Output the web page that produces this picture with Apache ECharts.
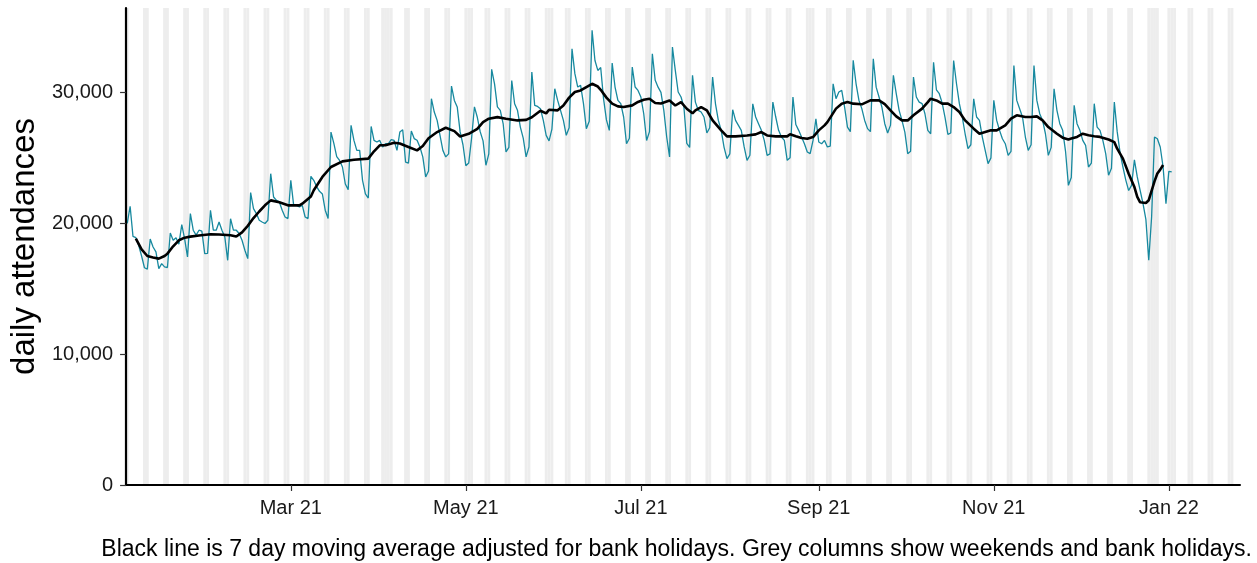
<!DOCTYPE html>
<html><head><meta charset="utf-8">
<script src="https://cdn.jsdelivr.net/npm/echarts@6/dist/echarts.min.js"></script>
<style>html,body{margin:0;padding:0;background:#fff}#c{width:1257px;height:563px}</style>
</head><body><div id="c"></div>
<script>
// ---------- data ----------
const startDate = '2021-01-03';           // date of the first daily value
const dailyAttendances = [
20000,
21300,19000,18900,18300,17500,16600,16500,
18800,18190,17810,16540,16920,16670,16620,
19260,18700,18900,18400,19900,18800,17430,
20740,19470,19090,19470,19400,17680,17700,
20990,19470,19470,20100,19470,18960,17170,
20350,19470,19470,19220,18700,17940,17300,
22340,21120,20740,20230,20100,19980,20230,
23790,22010,21750,21630,20990,20480,20360,
23280,21370,21370,21250,21370,20480,20360,
23590,23280,22800,22440,22240,21000,20360,
26970,26100,25100,24800,24300,23000,22570,
27480,26330,25570,25570,23280,22240,21930,
27400,26330,26210,26330,25830,26080,26080,
26400,26330,25570,26970,27150,24680,24600,
27050,26470,26340,25830,25070,23540,24000,
29520,28500,27860,26720,25570,25070,25300,
30480,29390,28890,27000,26000,24400,24600,
26500,28900,28100,27000,26300,24430,25300,
31760,30650,28890,28630,27620,25450,25800,
30910,29130,28630,27350,26500,25070,25830,
31550,29010,28930,28750,27860,26720,26300,
27200,30280,29390,28630,27860,26720,27300,
33330,31430,30410,30540,29140,27230,27800,
34740,32440,31680,31900,29500,27900,27100,
32240,30410,29390,29140,28120,26080,26500,
31930,30410,30150,29650,28370,26330,27000,
32950,30920,30400,30000,28630,26590,25070,
33460,31680,30030,29650,28880,26100,25800,
31300,29260,28630,28500,28120,26900,27300,
31170,29130,27860,27100,25800,24940,25300,
28680,27860,27480,27100,25830,24810,25200,
29130,28120,27610,27100,26330,25190,25300,
29260,28120,27100,26590,26330,24810,25000,
29650,27550,27100,26590,26080,25450,25320,
26330,27990,26210,26080,26330,25830,25900,
30660,29520,30030,30150,28880,27350,27000,
32450,30660,29390,28760,27860,27230,27000,
32570,30400,29650,28880,27610,26900,27500,
31300,29900,28630,27860,26970,25320,25500,
31170,29650,29260,29140,28370,27100,26840,
32300,30200,29900,29200,28100,26800,26900,
32440,30660,29140,28120,26840,25700,26000,
29510,28120,27860,26590,25570,24560,25000,
29390,27860,27100,26460,26080,25190,25500,
32060,29390,28750,28120,26590,25570,26000,
32060,29390,28370,27860,26840,25190,25800,
30280,28630,27610,27100,25500,22900,23500,
29010,27610,27100,26330,25950,24300,24600,
29140,27350,27100,26330,25320,23670,24200,
29260,27000,25400,24300,23300,22500,22900,
24850,23540,22520,21500,20300,17180,20500,
26590,26460,25830,24300,21500,23970,23920
];
// 7 day moving average: day number counted from 2021-01-01, and its value
const maDayIndex = [5,7,9,11,13,15,16,18,20,22,24,27,31,34,38,40,42,44,46,48,50,52,55,58,62,63,66,67,70,73,77,81,86,88,90,92,95,97,100,103,105,107,110,113,116,118,121,124,126,128,131,134,138,141,143,146,148,149,152,154,156,158,160,162,164,166,167,169,171,173,175,178,180,182,184,186,188,191,193,195,197,199,200,202,204,206,209,211,214,218,221,223,225,228,232,233,235,237,239,241,243,245,246,249,251,253,255,258,261,264,266,268,270,272,274,276,279,281,282,284,286,288,290,292,294,297,299,301,303,305,308,310,312,315,317,319,321,323,326,328,330,331,333,335,337,339,341,344,346,347,348,349,351,353,354,355,357,358,360,361,362,363];
const maValues = [18830,18000,17500,17380,17300,17500,17680,18240,18700,18900,18980,19060,19160,19140,19090,18990,19300,19800,20400,20900,21370,21750,21600,21370,21370,21500,22050,22520,23540,24300,24730,24860,24940,25500,25960,25960,26150,26090,25830,25570,25900,26500,26970,27300,27040,26630,26840,27220,27730,27990,28110,27990,27860,27900,28100,28600,28400,28680,28630,29000,29600,30030,30150,30410,30660,30450,30200,29600,29140,28930,28880,29010,29270,29440,29520,29190,29150,29380,29000,29260,28750,28400,28630,28880,28630,27860,27100,26640,26640,26710,26790,26970,26710,26640,26640,26800,26650,26510,26460,26590,27100,27480,27730,28760,29140,29260,29140,29090,29390,29390,29100,28630,28170,27860,27860,28250,28760,29260,29520,29390,29140,29140,28880,28500,27860,27230,26840,26970,27100,27100,27480,27990,28250,28120,28120,28170,27860,27350,26840,26540,26400,26470,26600,26850,26720,26650,26600,26400,26200,25700,25320,24940,23790,22770,22010,21600,21550,21760,23200,23800,24100,24450];
const bankHolidays = ['2021-01-01','2021-04-02','2021-04-05','2021-05-03','2021-05-31','2021-08-30','2021-12-27','2021-12-28','2022-01-03'];
const xTickDates = ['2021-03-01','2021-05-01','2021-07-01','2021-09-01','2021-11-01','2022-01-01'];
const xTickLabels = ['Mar 21','May 21','Jul 21','Sep 21','Nov 21','Jan 22'];
const yTickValues = [0, 10000, 20000, 30000];
const yAxisTitle = 'daily attendances';
const caption = 'Black line is 7 day moving average adjusted for bank holidays. Grey columns show weekends and bank holidays.';

// ---------- build ----------
const DAY = 86400000;
function ts(s){ const p = s.split('-').map(Number); return Date.UTC(p[0], p[1]-1, p[2]); }
const base = ts('2021-01-01');
const dayNo = s => Math.round((ts(s) - base) / DAY);
const xMin = 1.59, xMax = 389.8;              // visible date range, in days from 2021-01-01
const d0 = dayNo(startDate);
const dailySeries = dailyAttendances.map((v, i) => [d0 + i, v]);
const maSeries = maDayIndex.map((d, i) => [d, maValues[i]]);
const bhSet = new Set(bankHolidays.map(dayNo));
const areas = [];
for (let d = 0; d <= 395; d++) {
  const wd = new Date(base + d*DAY).getUTCDay();
  if (wd === 0 || wd === 6 || bhSet.has(d)) {
    const a = Math.max(d - 0.5, xMin), b = Math.min(d + 0.5, xMax);
    if (b > a) areas.push([{xAxis: a}, {xAxis: b}]);
  }
}
const tickDays = xTickDates.map(dayNo);
const font = '"Liberation Sans", Arial, sans-serif';

const chart = echarts.init(document.getElementById('c'), null, {renderer: 'canvas'});
chart.setOption({
  animation: false,
  backgroundColor: '#ffffff',
  textStyle: {fontFamily: font},
  grid: {left: 126, right: 17, top: 8, bottom: 78, containLabel: false},
  xAxis: {
    type: 'value', min: xMin, max: xMax, z: 10,
    splitLine: {show: false},
    axisLine: {show: true, onZero: false, lineStyle: {color: '#000', width: 2}},
    axisTick: {show: true, length: 6, lineStyle: {color: '#333', width: 1.2}, customValues: tickDays},
    axisLabel: {
      customValues: tickDays, margin: 13, fontSize: 20, color: '#1a1a1a', fontFamily: font,
      formatter: v => xTickLabels[tickDays.indexOf(v)] || ''
    }
  },
  yAxis: {
    type: 'value', min: 0, max: 36450, z: 10,
    name: yAxisTitle, nameLocation: 'middle', nameGap: 81,
    nameTextStyle: {fontSize: 33, color: '#000', fontFamily: font},
    splitLine: {show: false},
    axisLine: {show: true, lineStyle: {color: '#000', width: 2.2}},
    axisTick: {show: true, length: 6, lineStyle: {color: '#333', width: 1.2}, customValues: yTickValues},
    axisLabel: {
      customValues: yTickValues, margin: 13, fontSize: 20, color: '#1a1a1a', fontFamily: font,
      formatter: v => v.toLocaleString('en-GB')
    }
  },
  series: [
    {
      type: 'line', data: [], silent: true, z: 1,
      markArea: {silent: true, itemStyle: {color: '#EDEDED'}, data: areas}
    },
    {
      type: 'line', data: dailySeries, showSymbol: false, z: 3,
      lineStyle: {color: '#17899F', width: 1.3}, silent: true
    },
    {
      type: 'line', data: maSeries, showSymbol: false, z: 4,
      lineStyle: {color: '#000', width: 2.6}, silent: true
    }
  ],
  graphic: [{
    type: 'text', right: 5, top: 538, z: 20,
    style: {text: caption, fontSize: 23, fill: '#000', fontFamily: font}
  }]
});
</script></body></html>
